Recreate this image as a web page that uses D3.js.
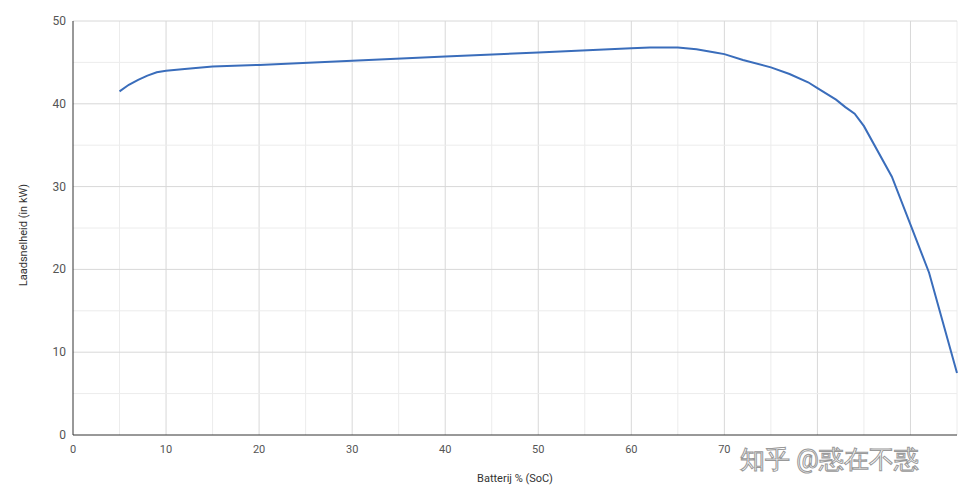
<!DOCTYPE html>
<html><head><meta charset="utf-8">
<script src="https://cdn.jsdelivr.net/npm/d3@7"></script>
<style>body{margin:0;background:#fff}text{font-family:Roboto,Arial,sans-serif}</style>
</head><body><svg id="c" width="975" height="496"></svg>
<script>
const soc = [5,6,7,8,9,10,12,15,20,30,40,50,60,62,65,67,69,70,72,75,77,79,80,81,82,83,84,85,88,90,92,95];
const power = [41.5,42.3,42.9,43.4,43.8,44.0,44.2,44.5,44.7,45.2,45.7,46.2,46.7,46.8,46.8,46.6,46.2,46.0,45.3,44.4,43.6,42.6,41.9,41.2,40.5,39.6,38.8,37.3,31.2,25.4,19.6,7.5];
const xTicks = [0,10,20,30,40,50,60,70];
const yTicks = [0,10,20,30,40,50];
const svg = d3.select("#c");
const x = d3.scaleLinear().domain([0,95]).range([73,957]);
const y = d3.scaleLinear().domain([0,50]).range([435,21]);
const g = svg.append("g");
d3.range(5,96,5).forEach(v=>g.append("line").attr("x1",x(v)).attr("x2",x(v)).attr("y1",y(0)).attr("y2",y(50)).attr("stroke",v%10?"#ececec":"#d8d8d8"));
d3.range(5,51,5).forEach(v=>g.append("line").attr("x1",x(0)).attr("x2",x(95)).attr("y1",y(v)).attr("y2",y(v)).attr("stroke",v%10?"#ececec":"#d8d8d8"));
g.append("line").attr("x1",x(0)).attr("x2",x(0)).attr("y1",y(0)).attr("y2",y(50)).attr("stroke","#333");
g.append("line").attr("x1",x(0)).attr("x2",x(95)).attr("y1",y(0)).attr("y2",y(0)).attr("stroke","#333");
yTicks.forEach(v=>g.append("text").attr("x",66).attr("y",y(v)+4).attr("text-anchor","end").attr("font-size",12).attr("fill","#555").text(v));
xTicks.forEach(v=>g.append("text").attr("x",x(v)).attr("y",453).attr("text-anchor","middle").attr("font-size",11).attr("fill","#555").text(v));
svg.append("text").attr("x",515).attr("y",482).attr("text-anchor","middle").attr("font-size",11).attr("fill","#333").text("Batterij % (SoC)");
svg.append("text").attr("transform","translate(27,235) rotate(-90)").attr("text-anchor","middle").attr("font-size",11).attr("fill","#333").text("Laadsnelheid (in kW)");
svg.append("path").datum(soc.map((s,i)=>[s,power[i]])).attr("fill","none").attr("stroke","#3a6dbb").attr("stroke-width",2)
  .attr("d",d3.line().x(d=>x(d[0])).y(d=>y(d[1])));
svg.append("text").attr("x",740).attr("y",468).attr("font-size",25).attr("fill","#fff").attr("stroke","#999").attr("stroke-width",1)
  .attr("font-family","Noto Sans CJK SC").text("知乎 @惑在不惑");
</script></body></html>
